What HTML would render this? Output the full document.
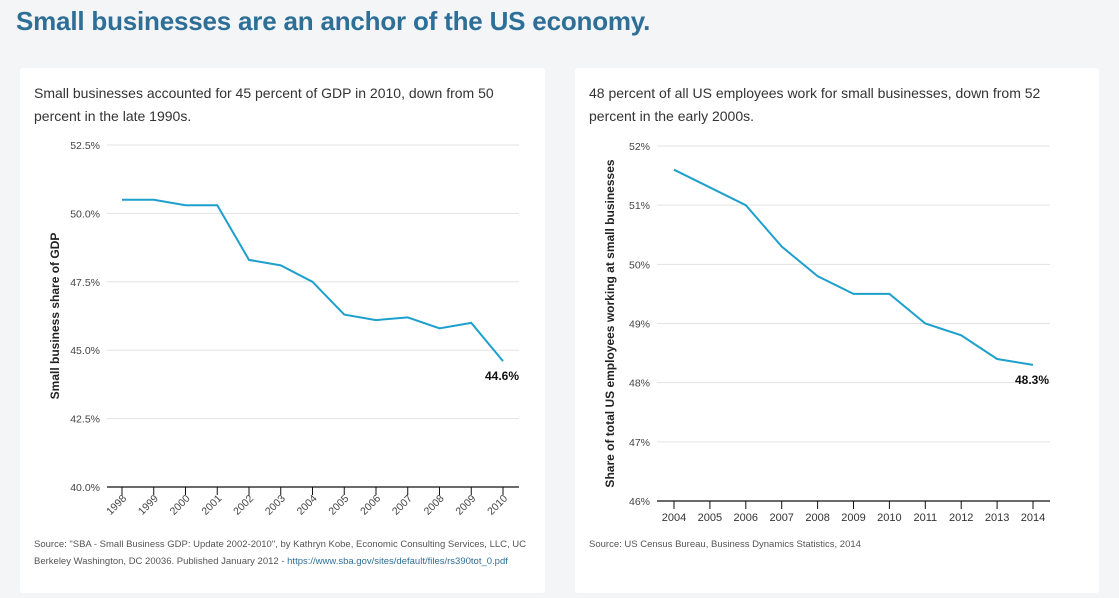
<!DOCTYPE html>
<html><head><meta charset="utf-8">
<style>
body{margin:0;width:1119px;height:598px;background:#f4f5f6;font-family:"Liberation Sans",sans-serif;overflow:hidden;position:relative}
h1{position:absolute;left:16px;top:6px;margin:0;font-size:26px;font-weight:bold;color:#2e6f98;letter-spacing:-0.2px;white-space:nowrap}
.card{position:absolute;top:68px;height:525px;background:#fff;border-radius:3px}
.sub{position:absolute;left:14px;top:14px;font-size:14px;line-height:23px;color:#333;white-space:nowrap}
.src{position:absolute;font-size:9.5px;line-height:17px;color:#555;white-space:nowrap}
.src a{color:#2e6f98;text-decoration:none}
svg{position:absolute;left:0;top:0}
</style></head><body>
<h1>Small businesses are an anchor of the US economy.</h1>
<div class="card" style="left:20px;width:525px">
<div class="sub">Small businesses accounted for 45 percent of GDP in 2010, down from 50<br>percent in the late 1990s.</div>
<div class="src" style="left:14px;top:468px">Source: "SBA - Small Business GDP: Update 2002-2010", by Kathryn Kobe, Economic Consulting Services, LLC, UC<br>Berkeley Washington, DC 20036. Published January 2012 - <a>https://www.sba.gov/sites/default/files/rs390tot_0.pdf</a></div>
</div>
<div class="card" style="left:575px;width:524px">
<div class="sub">48 percent of all US employees work for small businesses, down from 52<br>percent in the early 2000s.</div>
<div class="src" style="left:14px;top:468px">Source: US Census Bureau, Business Dynamics Statistics, 2014</div>
</div>
<svg id="chart" width="1119" height="598"></svg>
<script>
const gdpYears=["1998","1999","2000","2001","2002","2003","2004","2005","2006","2007","2008","2009","2010"];
const gdpValues=[50.5,50.5,50.3,50.3,48.3,48.1,47.5,46.3,46.1,46.2,45.8,46.0,44.6];
const gdpTicks=[40,42.5,45,47.5,50,52.5];
const empYears=["2004","2005","2006","2007","2008","2009","2010","2011","2012","2013","2014"];
const empValues=[51.6,51.3,51.0,50.3,49.8,49.5,49.5,49.0,48.8,48.4,48.3];
const empTicks=[46,47,48,49,50,51,52];
const NS="http://www.w3.org/2000/svg";
const svg=document.getElementById('chart');
function mk(t,a,txt){const e=document.createElementNS(NS,t);for(const k in a)e.setAttribute(k,a[k]);if(txt!==undefined)e.textContent=txt;svg.appendChild(e);return e;}
function draw(cfg){
  const {cats,vals,ticks,x0,x1,gx0,gx1,y0,y1,vmin,vmax,fmt,rot,title,tx,pre}=cfg;
  const sx=i=>x0+(x1-x0)*i/(cats.length-1);
  const sy=v=>y0+(y1-y0)*(v-vmin)/(vmax-vmin);
  ticks.forEach(t=>{
    if(t!==vmin){const g=mk('line',{x1:gx0,x2:gx1,y1:sy(t),y2:sy(t),stroke:'#e3e3e3','stroke-width':1});
    }
    const l=mk('text',{x:gx0-7,y:sy(t)+4,'text-anchor':'end','font-size':10.5,fill:'#444'},fmt(t));
    
  });
  const ax=mk('line',{x1:gx0,x2:gx1,y1:y0,y2:y0,stroke:'#111','stroke-width':1.3});
  
  cats.forEach((c,i)=>{
    const tk=mk('line',{x1:sx(i),x2:sx(i),y1:y0,y2:y0+8,stroke:'#111','stroke-width':1});
    
    let l;
    if(rot){l=mk('text',{x:sx(i)+5,y:y0+12,'text-anchor':'end','font-size':10.5,fill:'#444',transform:`rotate(-45 ${sx(i)+5} ${y0+12})`},c);}
    else{l=mk('text',{x:sx(i),y:y0+20,'text-anchor':'middle','font-size':11,fill:'#333'},c);}
    
  });
  const p=mk('polyline',{points:vals.map((v,i)=>sx(i)+','+sy(v)).join(' '),fill:'none',stroke:'#1ea0cc','stroke-width':2});
  
  const n=vals.length-1;
  const e=mk('text',{x:sx(n)+16,y:sy(vals[n])+19,'text-anchor':'end','font-size':12,'font-weight':'bold',fill:'#111'},vals[n].toFixed(1)+'%');
  
  const cy=(y0+y1)/2;
  const t=mk('text',{x:tx,y:cy,'text-anchor':'middle','font-size':12,'font-weight':'bold',fill:'#222',transform:`rotate(-90 ${tx} ${cy})`},title);
  
}
draw({cats:gdpYears,vals:gdpValues,ticks:gdpTicks,x0:122,x1:503,gx0:107,gx1:519,y0:487,y1:145,vmin:40,vmax:52.5,fmt:t=>t.toFixed(1)+'%',rot:true,title:'Small business share of GDP',tx:59,pre:'gdp'});
draw({cats:empYears,vals:empValues,ticks:empTicks,x0:674,x1:1033,gx0:657,gx1:1050,y0:501,y1:146,vmin:46,vmax:52,fmt:t=>t+'%',rot:false,title:'Share of total US employees working at small businesses',tx:614,pre:'emp'});
</script>
</body></html>
